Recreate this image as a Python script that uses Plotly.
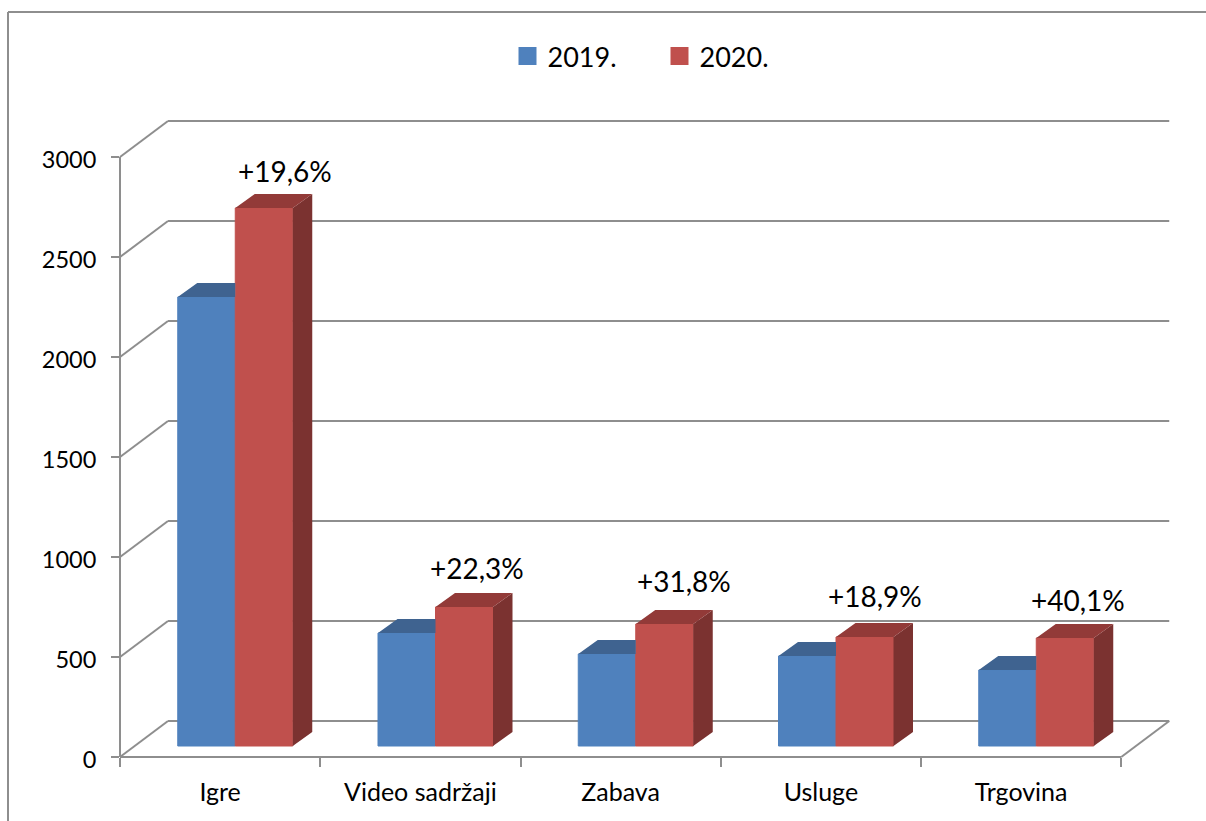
import plotly.graph_objects as go

categories = ["Igre", "Video sadržaji", "Zabava", "Usluge", "Trgovina"]
values_2019 = [2245, 565, 460, 450, 380]
values_2020 = [2690, 695, 610, 545, 540]
growth_labels = ["+19,6%", "+22,3%", "+31,8%", "+18,9%", "+40,1%"]
y_ticks = [0, 500, 1000, 1500, 2000, 2500, 3000]

FONT = "Lato"
GRID = "#8e8e8e"
W, H = 1206, 821
L, R, T, B = 120, 32, 115, 64          # plot margins, px
PX_X = 200.25                          # px per category
PX_Y = 0.2                             # px per value unit
x_max = (W - L - R) / PX_X
y_max = (H - T - B) / PX_Y
wall_dx, wall_dy = 48 / PX_X, 36 / PX_Y      # depth of the whole floor
bar_dx, bar_dy = 19.5 / PX_X, 14 / PX_Y      # depth of a bar
base = 11 / PX_Y                             # bars stand this far back on the floor
bar_w = 57.5 / PX_X
start = 57.75 / PX_X


def px(x):
    return x / x_max


def py(y):
    return y / y_max


def line(x0, y0, x1, y1, w=2, c=GRID):
    return dict(type="line", xref="paper", yref="paper", layer="below",
                x0=px(x0), y0=py(y0), x1=px(x1), y1=py(y1),
                line=dict(color=c, width=w))


n = len(categories)
shapes = []
# outer frame
shapes.append(dict(type="line", xref="paper", yref="paper", layer="below",
                   x0=(8 - L) / (W - L - R), x1=(W - L) / (W - L - R), y0=1 + (T - 12) / (H - T - B), y1=1 + (T - 12) / (H - T - B),
                   line=dict(color=GRID, width=2)))
shapes.append(dict(type="line", xref="paper", yref="paper", layer="below",
                   x0=(8 - L) / (W - L - R), x1=(8 - L) / (W - L - R), y0=-B / (H - T - B), y1=1 + (T - 12) / (H - T - B),
                   line=dict(color=GRID, width=2)))
# walls and floor
for t in y_ticks:
    shapes.append(line(0, t, wall_dx, t + wall_dy))
    shapes.append(line(wall_dx, t + wall_dy, n + wall_dx, t + wall_dy))
shapes.append(line(0, 0, 0, y_ticks[-1]))
shapes.append(line(0, 0, n, 0))
shapes.append(line(n, 0, n + wall_dx, wall_dy))

fig = go.Figure()


def faces(values, x0, x_clip=None):
    """Side and top polygons for a bar series."""
    sx, sy, tx, ty = [], [], [], []
    for i, v in enumerate(values):
        left = i + x0
        right = left + bar_w
        top = base + v
        sx += [right, right + bar_dx, right + bar_dx, right, right, None]
        sy += [base, base + bar_dy, top + bar_dy, top, base, None]
        if x_clip:
            tx += [left, left + bar_dx, right, right, left, None]
        else:
            tx += [left, left + bar_dx, right + bar_dx, right, left, None]
        ty += [top, top + bar_dy, top + bar_dy, top, top, None]
    return sx, sy, tx, ty


series = [
    ("2019.", values_2019, start, "#4F81BD", "#3F6390", "#3F6390", True),
    ("2020.", values_2020, start + bar_w, "#C0504D", "#923A38", "#7B3230", False),
]
for name, vals, x0, front, top_c, side_c, clip in series:
    fig.add_trace(go.Bar(
        x=[i + x0 + bar_w / 2 for i in range(n)], y=vals, base=[base] * n, width=bar_w,
        marker=dict(color=front, line=dict(width=1, color=front)), showlegend=False, hoverinfo="skip"))
for name, vals, x0, front, top_c, side_c, clip in series:
    sx, sy, tx, ty = faces(vals, x0, clip)
    if not clip:
        fig.add_trace(go.Scatter(x=sx, y=sy, mode="lines", fill="toself", fillcolor=side_c,
                                 line=dict(width=0), showlegend=False, hoverinfo="skip"))
    fig.add_trace(go.Scatter(x=tx, y=ty, mode="lines", fill="toself", fillcolor=top_c,
                             line=dict(width=0), showlegend=False, hoverinfo="skip"))
    # legend entry
    fig.add_trace(go.Scatter(x=[None], y=[None], mode="markers", name=name,
                             marker=dict(symbol="square", size=16, color=front,
                                         line=dict(color=front, width=2))))

label_dx = [20.5, 12.5, 19.5, 10.5, 12.5]
label_dy = [37, 39, 43, 41, 38]
annotations = [
    dict(x=i + start + bar_w * 1.5, y=base + v, text=t, showarrow=False,
         xshift=dx, yshift=dy, xanchor="center", yanchor="middle",
         font=dict(family=FONT, size=28, color="#000000"))
    for i, (v, t, dx, dy) in enumerate(zip(values_2020, growth_labels, label_dx, label_dy))
]

fig.update_layout(
    width=W, height=H, autosize=False,
    margin=dict(l=L, r=R, t=T, b=B, pad=0),
    paper_bgcolor="white", plot_bgcolor="white",
    barmode="overlay",
    shapes=shapes, annotations=annotations,
    font=dict(family=FONT, color="#000000"),
    hovermode=False,
    xaxis=dict(range=[0, x_max], tickmode="array",
               tickvals=[i + 0.5 for i in range(n)], ticktext=categories,
               ticks="", showgrid=False, zeroline=False, showline=False,
               tickfont=dict(family=FONT, size=25), ticklabelstandoff=18,
               minor=dict(tickmode="array", tickvals=list(range(n + 1)), ticks="outside",
                          ticklen=9, tickwidth=2, tickcolor=GRID, showgrid=False)),
    yaxis=dict(range=[0, y_max], tickmode="array", tickvals=y_ticks,
               ticks="outside", ticklen=8, tickwidth=2, tickcolor=GRID,
               showgrid=False, zeroline=False, showline=False,
               tickfont=dict(family=FONT, size=23.5), ticklabelstandoff=10, ticklabelshift=3),
    legend=dict(orientation="h", x=(507.5 - L) / (W - L - R), xanchor="left",
                y=1 + (T - 32) / (H - T - B), yanchor="top",
                font=dict(family=FONT, size=27), entrywidth=107, entrywidthmode="pixels",
                bgcolor="rgba(0,0,0,0)", itemclick=False, itemdoubleclick=False),
)

fig.write_html("out.html", post_script="document.body.style.margin='0';",
               config={"displayModeBar": False})
